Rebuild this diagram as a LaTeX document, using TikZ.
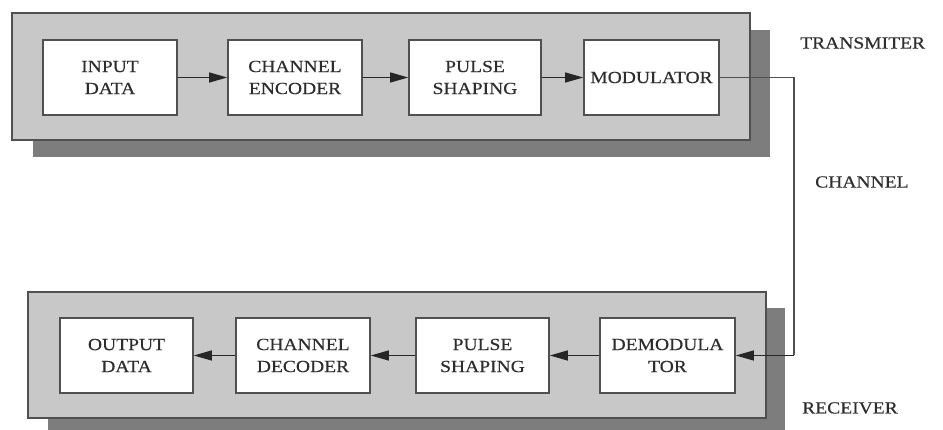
\documentclass[tikz,border=0pt]{standalone}
\usepackage{fontspec}
\setmainfont{Liberation Serif}[FakeStretch=1.15, FakeBold=0.4]
\usetikzlibrary{arrows.meta}
\definecolor{panelgray}{RGB}{200,200,200}
\definecolor{shadowgray}{RGB}{125,125,125}
\definecolor{edgegray}{RGB}{80,80,80}
\definecolor{textgray}{RGB}{45,45,45}
\tikzset{
  panel/.style={fill=panelgray, draw=edgegray, line width=1.6pt},
  shadowbox/.style={fill=shadowgray, draw=none},
  blockbox/.style={draw=edgegray, fill=white, line width=1.6pt, minimum width=134pt, minimum height=75pt, inner sep=0pt, align=center, font=\fontsize{17}{22}\selectfont, text=textgray},
  labeltext/.style={font=\fontsize{17}{22}\selectfont, text=textgray, inner sep=0pt},
  flow/.style={draw=black!85, line width=1.2pt, -{Triangle[length=18pt, width=10pt]}},
  wire/.style={draw=edgegray, line width=1.2pt}
}
\begin{document}
\begin{tikzpicture}[x=1pt, y=-1pt]
\useasboundingbox (0,0) rectangle (943,430);
\begin{scope}
\clip (0,0) rectangle (943,430);
% top panel
\fill[shadowgray] (33,30) rectangle (770,157);
\draw[panel] (12,13) rectangle (750,140);
% bottom panel
\fill[shadowgray] (48,308) rectangle (785,440);
\draw[panel] (28,292) rectangle (766,418);
\end{scope}
% top blocks
\node[blockbox] (in) at (110,77.5) {INPUT\\DATA};
\node[blockbox] (enc) at (295,77.5) {CHANNEL\\ENCODER};
\node[blockbox, minimum width=132pt] (ps1) at (475,77.5) {PULSE\\SHAPING};
\node[blockbox, minimum width=135pt] (mod) at (651.5,77.5) {MODULATOR};
% bottom blocks
\node[blockbox, minimum width=133pt] (out) at (126.5,355.5) {OUTPUT\\DATA};
\node[blockbox] (dec) at (303,355.5) {CHANNEL\\DECODER};
\node[blockbox, minimum width=133pt] (ps2) at (482.5,355.5) {PULSE\\SHAPING};
\node[blockbox, minimum width=135pt] (dem) at (667.5,355.5) {DEMODULA\\TOR};
% labels
\node[labeltext, anchor=west] (ltx) at (800,43) {TRANSMITER};
\node[labeltext, anchor=west] (lch) at (815,182) {CHANNEL};
\node[labeltext, anchor=west] (lrx) at (802,408) {RECEIVER};
% connectors
\draw[flow] (in) -- (enc);
\draw[flow] (enc) -- (ps1);
\draw[flow] (ps1) -- (mod);
\coordinate (c1) at (794,77.5);
\coordinate (c2) at (794,355.5);
\draw[wire] (mod.east) -- (c1) -- (c2);
\draw[flow] (c2) -- (dem.east);
\draw[flow] (dem) -- (ps2);
\draw[flow] (ps2) -- (dec);
\draw[flow] (dec) -- (out);
\end{tikzpicture}
\end{document}
